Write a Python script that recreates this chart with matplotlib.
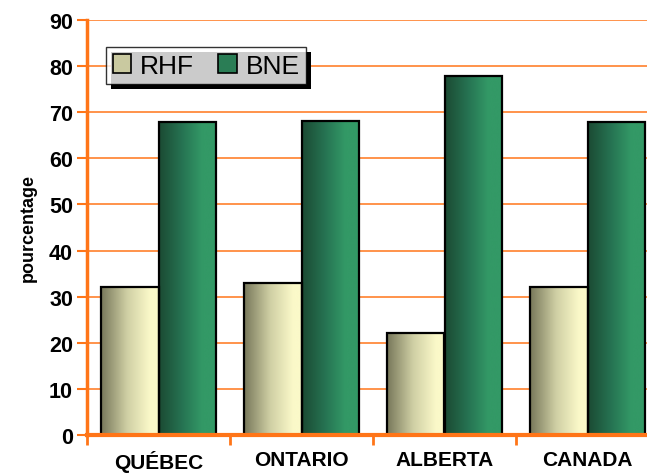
import matplotlib
matplotlib.use("Agg")
import matplotlib.pyplot as plt
import matplotlib.patches as mpatches
from matplotlib.colors import LinearSegmentedColormap
import numpy as np

plt.rcParams['font.family'] = ['Liberation Sans', 'DejaVu Sans']

categories = ["QUÉBEC", "ONTARIO", "ALBERTA", "CANADA"]
rhf = [32.2, 33.0, 22.2, 32.2]
bne = [67.8, 68.2, 77.8, 67.8]
series_names = ["RHF", "BNE"]

orange = "#ff7518"
grid_orange = "#ff8a3d"

# horizontal gradients for the bars
cmap_rhf = LinearSegmentedColormap.from_list(
    "rhf", [(0, "#77775a"), (0.45, "#cfcfa4"), (0.85, "#fbf9c9"), (1, "#fbf9c9")])
cmap_bne = LinearSegmentedColormap.from_list(
    "bne", [(0, "#1b4a33"), (0.4, "#267352"), (0.75, "#339966"), (1, "#339966")])

fig = plt.figure(figsize=(6.47, 4.77), dpi=100, facecolor='w')
ax = fig.add_axes([87 / 647, 41 / 477, 572 / 647, 415 / 477])

x = np.arange(len(categories))
w = 0.405
grad = np.linspace(0, 1, 256).reshape(1, -1)

def gradient_bars(xpos, vals, cmap):
    bars = ax.bar(xpos, vals, width=w, facecolor='none', edgecolor='black',
                  linewidth=1.6, zorder=4)
    for b in bars:
        bx, by = b.get_x(), b.get_y()
        bw, bh = b.get_width(), b.get_height()
        im = ax.imshow(grad, cmap=cmap, aspect='auto', extent=(bx, bx + bw, by, by + bh),
                       zorder=3, interpolation='bicubic')
        im.set_clip_path(b)
    return bars

gradient_bars(x - w / 2, rhf, cmap_rhf)
gradient_bars(x + w / 2, bne, cmap_bne)

ax.set_xlim(-0.5, 3.5)
ax.set_ylim(0, 90)
ax.set_yticks(np.arange(0, 91, 10))
ax.yaxis.grid(True, color=grid_orange, linewidth=1.3, zorder=1)
ax.set_axisbelow(True)

ax.set_xticks(x)
ax.set_xticklabels(categories, fontsize=15, fontweight='bold')
ax.set_xticks(np.arange(-0.5, 4, 1), minor=True)
ax.tick_params(axis='x', which='major', length=0, pad=11)
ax.tick_params(axis='x', which='minor', length=7, width=2, color=orange)
ax.tick_params(axis='y', length=7, width=1.5, color=orange, labelsize=15.5, pad=3)
for lab in ax.get_yticklabels():
    lab.set_fontweight('bold')

for s in ['top', 'right']:
    ax.spines[s].set_visible(False)
ax.spines['left'].set_color(orange)
ax.spines['left'].set_linewidth(2.5)
ax.spines['bottom'].set_color(orange)
ax.spines['bottom'].set_linewidth(3)
ax.spines['bottom'].set_zorder(5)

ax.set_ylabel("pourcentage", fontsize=13, fontweight='bold', labelpad=9)

# legend with hard black shadow
handles = [mpatches.Patch(facecolor="#c9c9a0", edgecolor='black', linewidth=1.2),
           mpatches.Patch(facecolor="#2a7d55", edgecolor='black', linewidth=1.2)]
leg = fig.legend(handles, series_names, loc='upper left',
                 bbox_to_anchor=(106 / 647, 1 - 48 / 477), bbox_transform=fig.transFigure,
                 ncol=2, fontsize=19, frameon=True, fancybox=False, borderaxespad=0,
                 handlelength=0.7, handleheight=0.7, handletextpad=0.35,
                 columnspacing=0.9, borderpad=0.25)
leg.get_frame().set_edgecolor('black')
leg.get_frame().set_linewidth(1.0)
leg.set_zorder(10)

fig.canvas.draw()
bb = leg.get_window_extent().transformed(fig.transFigure.inverted())
dx, dy = 5 / 647, 5 / 477
fig.patches.append(mpatches.Rectangle((bb.x0 + dx, bb.y0 - dy), bb.width, bb.height,
                                      transform=fig.transFigure, facecolor='black',
                                      zorder=9))

fig.savefig("out.png", dpi=100, facecolor='w')
